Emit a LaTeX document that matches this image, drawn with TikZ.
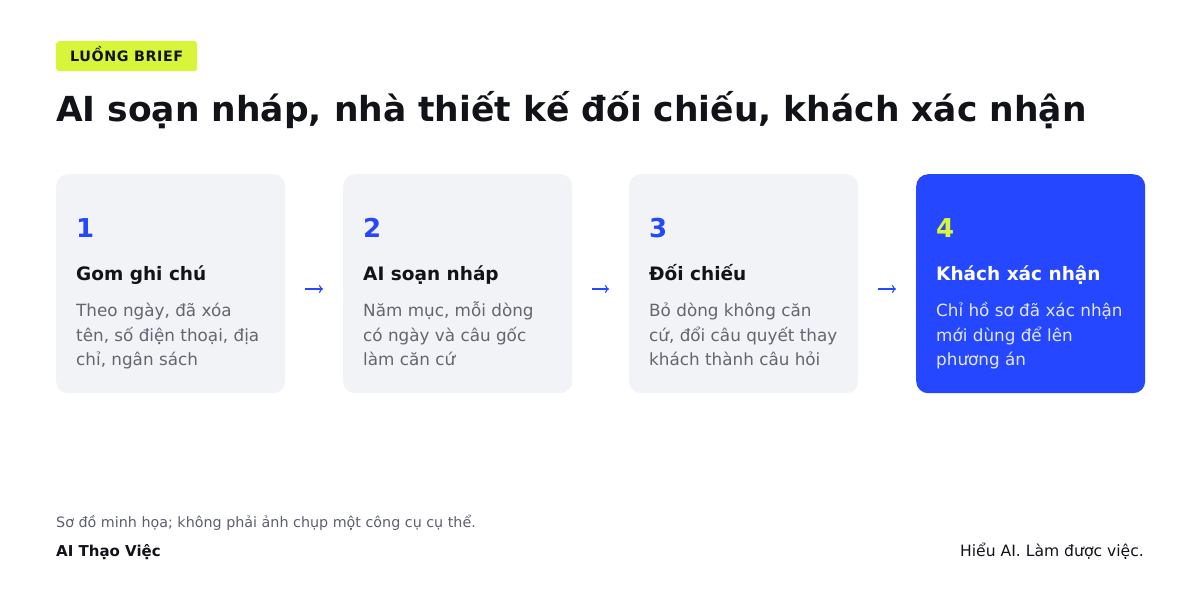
\documentclass[tikz,border=0pt]{standalone}
\usepackage{fontspec}
\setmainfont{DejaVu Sans}
\usetikzlibrary{calc,arrows.meta}
\definecolor{ink}{HTML}{111318}
\definecolor{lime}{HTML}{D8F53A}
\definecolor{brand}{HTML}{2447FF}
\definecolor{cardbg}{HTML}{F2F3F7}
\definecolor{bodygray}{HTML}{62666F}
\definecolor{footgray}{HTML}{5C606B}
\definecolor{paleblue}{HTML}{E2E7FF}
\begin{document}
\begin{tikzpicture}[x=1pt,y=-1pt,
  card/.style={anchor=north west, minimum width=229pt, minimum height=219pt, rounded corners=12pt, fill=cardbg, inner sep=0pt},
  hicard/.style={card, fill=brand},
  num/.style={anchor=base west, inner sep=0pt, font=\fontsize{26}{26}\selectfont\bfseries, text=brand},
  head/.style={anchor=base west, inner sep=0pt, font=\fontsize{18.5}{18.5}\selectfont\bfseries, text=ink},
  body/.style={anchor=base west, inner sep=0pt, font=\fontsize{16.8}{16.8}\selectfont, text=bodygray},
  flow/.style={draw=brand, line width=1.2pt, -{To[length=4pt,width=8pt]}}
]
\useasboundingbox (0,0) rectangle (1200,600);
\fill[white] (0,0) rectangle (1200,600);

% badge
\node[anchor=north west, minimum width=141pt, minimum height=30pt, fill=lime, rounded corners=3pt, inner sep=0pt] (badge) at (56,41) {};
\node[anchor=base west, inner sep=0pt, text=ink, font=\fontsize{14.3}{14.3}\selectfont\bfseries\addfontfeatures{LetterSpace=4}] (badgetxt) at (70,61) {LUỒNG BRIEF};

% title
\node[anchor=base west, inner sep=0pt, text=ink, font=\fontsize{34.5}{34.5}\selectfont\bfseries] (title) at (56,121) {AI soạn nháp, nhà thiết kế đối chiếu, khách xác nhận};

% cards
\node[card] (c1) at (56,174) {};
\node[card] (c2) at (343,174) {};
\node[card] (c3) at (629,174) {};
\node[hicard] (c4) at (916,174) {};

% card 1
\node[num] (n1) at (76,237) {1};
\node[head] (h1) at (76,280) {Gom ghi chú};
\node[body] (b1a) at (76,316) {Theo ngày, đã xóa};
\node[body] (b1b) at (76,341) {tên, số điện thoại, địa};
\node[body] (b1c) at (76,365) {chỉ, ngân sách};

% card 2
\node[num] (n2) at (363,237) {2};
\node[head] (h2) at (363,280) {AI soạn nháp};
\node[body] (b2a) at (363,316) {Năm mục, mỗi dòng};
\node[body] (b2b) at (363,341) {có ngày và câu gốc};
\node[body] (b2c) at (363,365) {làm căn cứ};

% card 3
\node[num] (n3) at (649,237) {3};
\node[head] (h3) at (649,280) {Đối chiếu};
\node[body] (b3a) at (649,316) {Bỏ dòng không căn};
\node[body] (b3b) at (649,341) {cứ, đổi câu quyết thay};
\node[body] (b3c) at (649,365) {khách thành câu hỏi};

% card 4
\node[num, text=lime] (n4) at (936,237) {4};
\node[head, text=white] (h4) at (936,280) {Khách xác nhận};
\node[body, text=paleblue] (b4a) at (936,316) {Chỉ hồ sơ đã xác nhận};
\node[body, text=paleblue] (b4b) at (936,341) {mới dùng để lên};
\node[body, text=paleblue] (b4c) at (936,365) {phương án};

% arrows
\draw[flow] ($(c1.north east)+(20,115)$) -- ($(c2.north west)+(-20,115)$);
\draw[flow] ($(c2.north east)+(20,115)$) -- ($(c3.north west)+(-20,115)$);
\draw[flow] ($(c3.north east)+(20,115)$) -- ($(c4.north west)+(-20,115)$);

% footer
\node[anchor=base west, inner sep=0pt, text=footgray, font=\fontsize{14.3}{14.3}\selectfont] (note) at (56,527) {Sơ đồ minh họa; không phải ảnh chụp một công cụ cụ thể.};
\node[anchor=base west, inner sep=0pt, text=ink, font=\fontsize{15}{15}\selectfont\bfseries] (brandname) at (56,556) {AI Thạo Việc};
\node[anchor=base east, inner sep=0pt, text=ink, font=\fontsize{15.6}{15.6}\selectfont] (slogan) at (1144,556) {Hiểu AI. Làm được việc.};
\end{tikzpicture}
\end{document}
